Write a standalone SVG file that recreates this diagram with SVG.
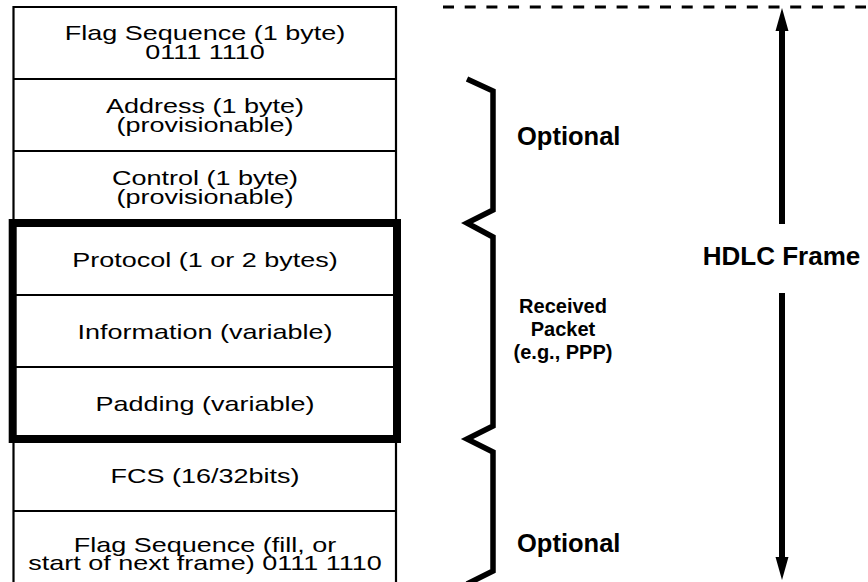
<svg xmlns="http://www.w3.org/2000/svg" width="868" height="582" viewBox="0 0 868 582">
  <style>
    .field { font-family: "Liberation Sans", Arial, sans-serif; font-size: 20px; fill: #000; text-anchor: middle; }
    .label { font-family: "Liberation Sans", Arial, sans-serif; font-weight: bold; fill: #000; }
    .rule { stroke: #000; stroke-width: 2.2; fill: none; }
    .brace { stroke: #000; stroke-width: 5.5; fill: none; stroke-linejoin: miter; }
    .shaft { stroke: #000; stroke-width: 6; fill: none; }
    .tip { fill: #000; }
  </style>

  <rect width="868" height="582" fill="#fff"/>

  <!-- frame stack outline -->
  <g id="frame-stack">
    <path class="rule" d="M13.5,590 V7 H396 V590"/>
    <line class="rule" x1="13.5" y1="79" x2="396" y2="79"/>
    <line class="rule" x1="13.5" y1="151" x2="396" y2="151"/>
    <line class="rule" x1="13.5" y1="295" x2="396" y2="295"/>
    <line class="rule" x1="13.5" y1="367" x2="396" y2="367"/>
    <line class="rule" x1="13.5" y1="511" x2="396" y2="511"/>
  </g>

  <g id="field-flag-open">
    <text class="field" transform="translate(205,40) scale(1.35,1)">Flag Sequence (1 byte)</text>
    <text class="field" transform="translate(205,58.5) scale(1.35,1)">0111 1110</text>
  </g>
  <g id="field-address">
    <text class="field" transform="translate(205,113) scale(1.35,1)">Address (1 byte)</text>
    <text class="field" transform="translate(205,131.5) scale(1.35,1)">(provisionable)</text>
  </g>
  <g id="field-control">
    <text class="field" transform="translate(205,185) scale(1.35,1)">Control (1 byte)</text>
    <text class="field" transform="translate(205,203.5) scale(1.35,1)">(provisionable)</text>
  </g>
  <g id="field-protocol">
    <text class="field" transform="translate(205,267) scale(1.35,1)">Protocol (1 or 2 bytes)</text>
  </g>
  <g id="field-information">
    <text class="field" transform="translate(205,339) scale(1.35,1)">Information (variable)</text>
  </g>
  <g id="field-padding">
    <text class="field" transform="translate(205,411) scale(1.35,1)">Padding (variable)</text>
  </g>
  <g id="field-fcs">
    <text class="field" transform="translate(205,483) scale(1.35,1)">FCS (16/32bits)</text>
  </g>
  <g id="field-flag-close">
    <text class="field" transform="translate(205,552) scale(1.35,1)">Flag Sequence (fill, or</text>
    <text class="field" transform="translate(205,570) scale(1.35,1)">start of next frame) 0111 1110</text>
  </g>

  <!-- received packet outline -->
  <g id="received-packet">
    <rect x="12.7" y="223" width="384.3" height="216" fill="none" stroke="#000" stroke-width="8"/>
  </g>

  <!-- braces -->
  <g id="braces">
    <path class="brace" d="M467,79 L493,91 V210 L467,223 L493,237 V426 L467,439 L493,452 V571 L467,584"/>
  </g>

  <g id="brace-labels">
    <text class="label" x="517" y="145" font-size="25.5">Optional</text>
    <text class="label" x="563" y="313" font-size="20" text-anchor="middle">Received</text>
    <text class="label" x="563" y="336" font-size="20" text-anchor="middle">Packet</text>
    <text class="label" x="563" y="359" font-size="20" text-anchor="middle">(e.g., PPP)</text>
    <text class="label" x="517" y="552" font-size="25.5">Optional</text>
  </g>

  <!-- connectors: frame extent -->
  <g id="connectors">
    <line x1="443" y1="7" x2="866" y2="7" stroke="#000" stroke-width="3" stroke-dasharray="11,10.7"/>
    <line class="shaft" x1="782" y1="224" x2="782" y2="28"/>
    <polygon class="tip" points="782,8 775.5,31 788.5,31"/>
    <line class="shaft" x1="782" y1="293" x2="782" y2="560"/>
    <polygon class="tip" points="782,580 775.5,557 788.5,557"/>
  </g>

  <g id="frame-label">
    <text class="label" x="781.5" y="265" font-size="26" text-anchor="middle">HDLC Frame</text>
  </g>
</svg>
